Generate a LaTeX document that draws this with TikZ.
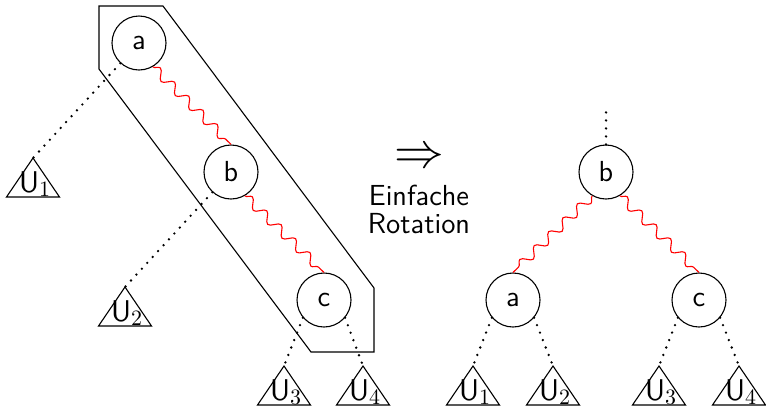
\documentclass[tikz,border=0pt]{standalone}
\usetikzlibrary{decorations.pathmorphing,calc}
\renewcommand\familydefault{\sfdefault}
\tikzset{
  knot/.style={draw,circle,minimum size=27pt,inner sep=0pt,line width=0.55pt,font=\fontsize{14.5}{16}\selectfont},
  utext/.style={inner sep=0pt,anchor=base,font=\fontsize{15}{16}\selectfont},
  dotline/.style={line width=1.3pt,line cap=round,dash pattern=on 0pt off 4pt},
  wave/.style={red,line width=0.55pt,decorate,decoration={snake,amplitude=2.3pt,segment length=10pt}},
  outline/.style={line width=0.55pt},
}
\newcommand\mysubtree[4]{%
  \coordinate (#1) at (#2,#3);
  \draw[outline] (#1) -- ++(26.5,39) -- ++(-53,0) -- cycle;
  \node[utext] (#1l) at ($(#1)+(2,34)$) {U$_{#4}$};}
\begin{document}
\begin{tikzpicture}[x=0.5pt,y=-0.5pt]
\useasboundingbox (0,0) rectangle (766,408);
% left tree
\node[knot] (a) at (139,43) {a};
\node[knot] (b) at (231,172) {b};
\node[knot] (c) at (324,300) {c};
\mysubtree{t1}{33}{158}{1}
\mysubtree{t2}{125}{287}{2}
\mysubtree{t3}{284}{366}{3}
\mysubtree{t4}{363}{366}{4}
\draw[wave] (a.-60) -- (b.north);
\draw[wave] (b.-60) -- (c.north);
\draw[dotline] (a) -- (t1);
\draw[dotline] (b) -- (t2);
\draw[dotline] (c.-140) -- (t3);
\draw[dotline] (c.-40) -- (t4);
\draw[outline] (99,6) -- (163,6) -- (374,288) -- (374,352) -- (311,352) -- (99,69) -- cycle;
% arrow and text
\node[inner sep=0pt,font=\fontsize{33}{34}\selectfont] (arr) at (419,158) {$\Rightarrow$};
\node[inner sep=0pt,align=center,font=\fontsize{14.5}{14}\selectfont] (lbl) at (419,209) {Einfache\\Rotation};
% right tree
\node[knot] (rb) at (606,172) {b};
\node[knot] (ra) at (513,300) {a};
\node[knot] (rc) at (699,300) {c};
\coordinate (top) at (606,108);
\draw[dotline] (rb.north) -- (top);
\draw[wave] (rb.-120) -- (ra.north);
\draw[wave] (rb.-60) -- (rc.north);
\mysubtree{s1}{473}{366}{1}
\mysubtree{s2}{553}{366}{2}
\mysubtree{s3}{659}{366}{3}
\mysubtree{s4}{739}{366}{4}
\draw[dotline] (ra.-140) -- (s1);
\draw[dotline] (ra.-40) -- (s2);
\draw[dotline] (rc.-140) -- (s3);
\draw[dotline] (rc.-40) -- (s4);
\end{tikzpicture}
\end{document}
